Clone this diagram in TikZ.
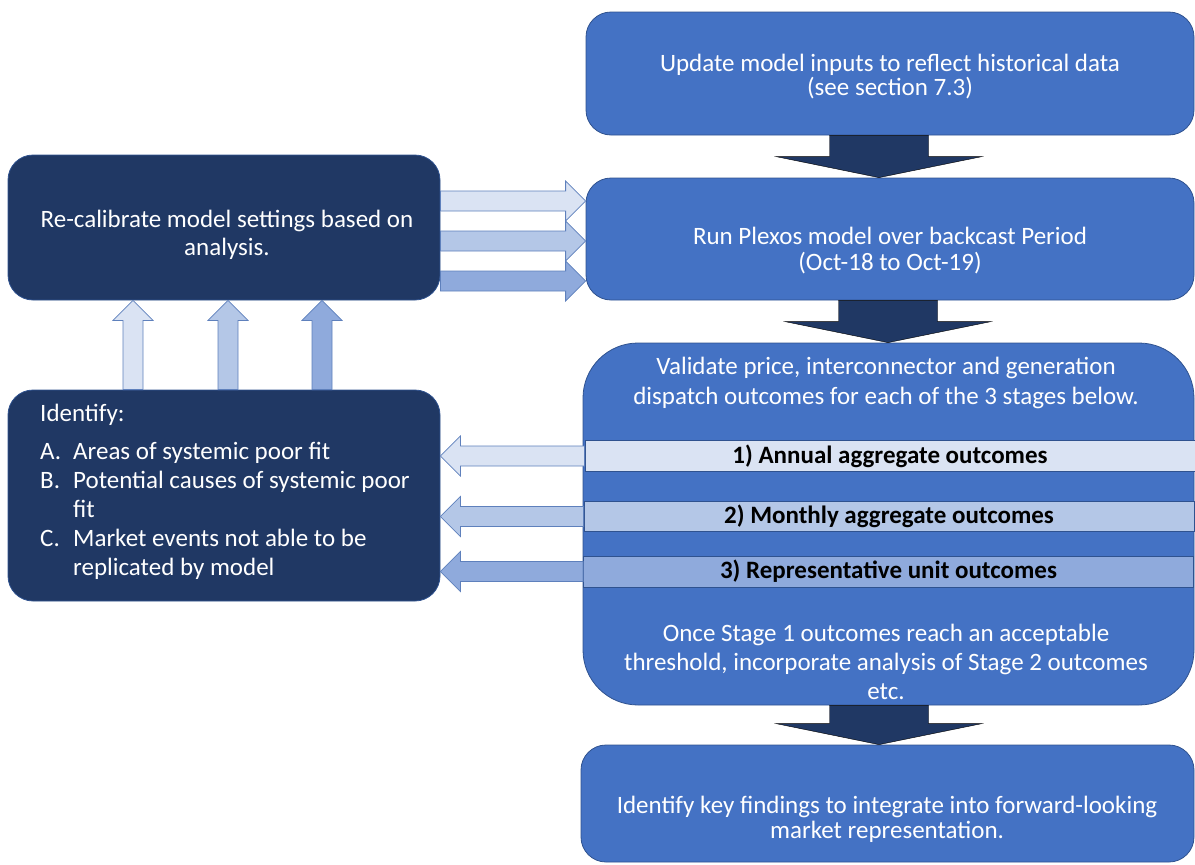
\documentclass[tikz,border=0pt]{standalone}
\usepackage{fontspec}
\setmainfont{Carlito}
\usetikzlibrary{calc}

\definecolor{midblue}{HTML}{4472C4}
\definecolor{navy}{HTML}{203864}
\definecolor{edgeblue}{HTML}{2F528F}
\definecolor{arrowline}{HTML}{5E80BC}
\definecolor{paleA}{HTML}{DAE3F3}
\definecolor{paleB}{HTML}{B4C7E7}
\definecolor{paleC}{HTML}{8FAADC}

\begin{document}
\begin{tikzpicture}[
  x=1pt, y=-1pt,
  box/.style={draw=edgeblue, line width=0.8pt, rounded corners=25pt, inner sep=0pt},
  bluebox/.style={box, fill=midblue},
  navybox/.style={box, fill=navy},
  band/.style={draw=edgeblue, line width=0.8pt, fill=#1, minimum width=610pt, inner sep=0pt, font=\fontsize{25}{28}\selectfont\bfseries},
  txt/.style={text=white, align=center, font=\fontsize{25}{29}\selectfont},
  fat/.style n args={3}{to path={
    ($(\tikztostart)!#1!90:(\tikztotarget)$)
    -- ($(\tikztotarget)!#3!(\tikztostart)!#1!-90:(\tikztostart)$)
    -- ($(\tikztotarget)!#3!(\tikztostart)!#2!-90:(\tikztostart)$)
    -- (\tikztotarget)
    -- ($(\tikztotarget)!#3!(\tikztostart)!#2!90:(\tikztostart)$)
    -- ($(\tikztotarget)!#3!(\tikztostart)!#1!90:(\tikztostart)$)
    -- ($(\tikztostart)!#1!-90:(\tikztotarget)$)
    -- cycle}},
  pale/.style={fat={10pt}{20pt}{20pt}, draw=arrowline, line width=0.8pt, fill=#1},
  bigdown/.style={fat={49.5pt}{103pt}{21pt}, fill=navy}
]
\useasboundingbox (0,0) rectangle (1195,865);

% boxes on the right
\node[bluebox, minimum width=608pt, minimum height=123pt] (upd) at (890,73.5) {};
\node[bluebox, minimum width=608pt, minimum height=122pt] (run) at (890,239) {};
\node[bluebox, rounded corners=55pt, minimum width=611pt, minimum height=362pt] (val) at (888.5,524) {};
\node[bluebox, minimum width=613pt, minimum height=117pt] (concl) at (887.5,803.5) {};

% boxes on the left
\node[navybox, minimum width=432pt, minimum height=145pt] (recal) at (224,227.5) {};
\node[navybox, minimum width=432pt, minimum height=211pt] (ident) at (224,495.5) {};

% texts
\node[txt, font=\fontsize{25}{24}\selectfont] (updtxt) at (890,77) {Update model inputs to reflect historical data\\(see section 7.3)};
\node[txt, font=\fontsize{25}{26}\selectfont] (runtxt) at (890,251) {Run Plexos model over backcast Period\\(Oct-18 to Oct-19)};
\node[txt, font=\fontsize{25}{30}\selectfont] (valtop) at (886,383) {Validate price, interconnector and generation\\dispatch outcomes for each of the 3 stages below.};
\node[txt] (valbot) at (886,661.5) {Once Stage 1 outcomes reach an acceptable\\threshold, incorporate analysis of Stage 2 outcomes\\etc.};
\node[txt, font=\fontsize{25}{25}\selectfont] (concltxt) at (887,819.5) {Identify key findings to integrate into forward-looking\\market representation.};
\node[txt, font=\fontsize{25}{28}\selectfont] (recaltxt) at (227,235) {Re-calibrate model settings based on\\analysis.};
\node[txt, align=left, anchor=north west, inner sep=0pt] (identtxt) at (40,404) {Identify:\\[9pt]
  \makebox[33pt][l]{A.}Areas of systemic poor fit\\
  \makebox[33pt][l]{B.}Potential causes of systemic poor\\
  \hspace*{33pt}fit\\
  \makebox[33pt][l]{C.}Market events not able to be\\
  \hspace*{33pt}replicated by model};

% stage bands
\node[band=paleA, minimum height=31pt] (b1) at (890,456) {1) Annual aggregate outcomes};
\node[band=paleB, minimum height=30pt] (b2) at (889,516.5) {2) Monthly aggregate outcomes};
\node[band=paleC, minimum height=31pt] (b3) at (888.5,571.5) {3) Representative unit outcomes};

% block arrows
\draw[bigdown] (upd.south -| 879,0) to (run.north -| 879,0);
\draw[bigdown] (run.south -| 888,0) to (val.north -| 888,0);
\draw[bigdown] (val.south -| 879,0) to (concl.north -| 879,0);

\draw[pale=paleA] (recal.east |- 0,201) to (run.west |- 0,201);
\draw[pale=paleB] (recal.east |- 0,241) to (run.west |- 0,241);
\draw[pale=paleC] (recal.east |- 0,281) to (run.west |- 0,281);

\draw[pale=paleA] (b1.west) to (ident.east |- b1.west);
\draw[pale=paleB] (b2.west) to (ident.east |- b2.west);
\draw[pale=paleC] (b3.west) to (ident.east |- b3.west);

\draw[pale=paleA] (ident.north -| 133,0) to (recal.south -| 133,0);
\draw[pale=paleB] (ident.north -| 228,0) to (recal.south -| 228,0);
\draw[pale=paleC] (ident.north -| 322,0) to (recal.south -| 322,0);
\end{tikzpicture}
\end{document}
